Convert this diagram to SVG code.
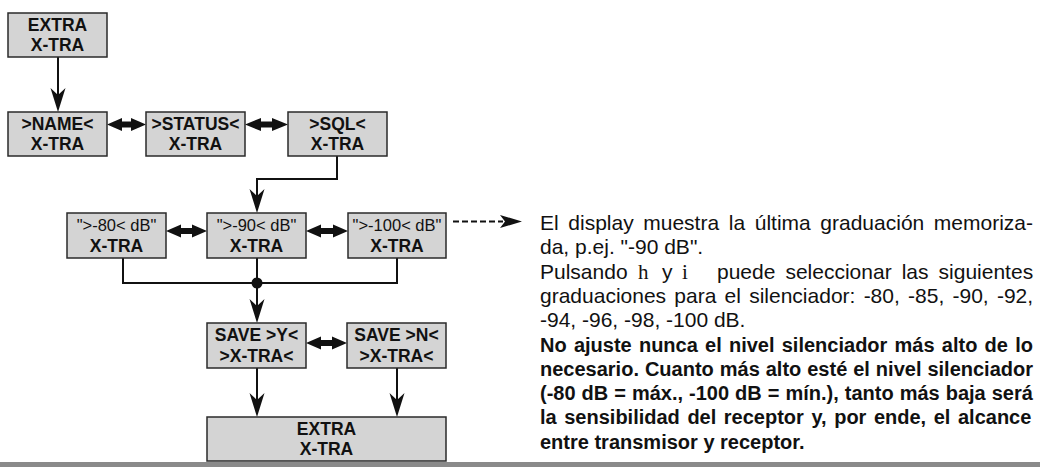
<svg xmlns="http://www.w3.org/2000/svg" width="1049" height="467" viewBox="0 0 1049 467">
<defs>
<style>
.box{fill:#d4d4d4;stroke:#2a2a2a;stroke-width:1.5}
.bt{font-family:"Liberation Sans",Arial,sans-serif;font-size:17.5px;font-weight:bold;fill:#111;text-anchor:middle}
.rt{font-family:"Liberation Sans",Arial,sans-serif;font-size:16.5px;fill:#111;text-anchor:middle}
.ln{fill:none;stroke:#111;stroke-width:2}
.dbl{fill:#111}
.tx{font-family:"Liberation Sans",Arial,sans-serif;font-size:21px;fill:#111}
.tb{font-weight:bold;font-size:20px}
.sf{font-family:"Liberation Serif","Times New Roman",serif}
</style>
</defs>
<rect width="1049" height="467" fill="#fff"/>

<g id="connectors">
<path class="ln" d="M58,57 V105"/>
<path d="M58,112 L50.5,88 L58,95 L65.5,88 Z" fill="#111"/>
<path class="ln" d="M337,156 V179 H257 V205"/>
<path d="M257,213 L249.5,189 L257,196 L264.5,189 Z" fill="#111"/>
<path class="ln" d="M123,258 V283 H397 V258"/>
<path class="ln" d="M257,258 V315"/>
<path d="M257,323 L249.5,299 L257,306 L264.5,299 Z" fill="#111"/>
<circle cx="257" cy="283" r="5.5" fill="#111"/>
<path class="ln" d="M257,368 V409"/>
<path d="M257,417 L249.5,393 L257,400 L264.5,393 Z" fill="#111"/>
<path class="ln" d="M397,368 V409"/>
<path d="M397,417 L389.5,393 L397,400 L404.5,393 Z" fill="#111"/>
<path class="ln" d="M453,221.5 H503" stroke-dasharray="6,3"/>
<path d="M522,221.5 L500,215 L505,221.5 L500,228 Z" fill="#111"/>
<path class="dbl" d="M107,124.5 L122,118 L122,121.5 L131,121.5 L131,118 L146,124.5 L131,131 L131,127.5 L122,127.5 L122,131 Z"/>
<path class="dbl" d="M245,124.5 L261,118 L261,121.5 L272,121.5 L272,118 L288,124.5 L272,131 L272,127.5 L261,127.5 L261,131 Z"/>
<path class="dbl" d="M166,231 L181,224.5 L181,228 L192,228 L192,224.5 L207,231 L192,237.5 L192,234 L181,234 L181,237.5 Z"/>
<path class="dbl" d="M306,231 L321,224.5 L321,228 L333,228 L333,224.5 L348,231 L333,237.5 L333,234 L321,234 L321,237.5 Z"/>
<path class="dbl" d="M306,343 L321,336.5 L321,340 L332,340 L332,336.5 L347,343 L332,349.5 L332,346 L321,346 L321,349.5 Z"/>
</g>

<g id="n-extra-top">
<rect class="box" x="8" y="13" width="99" height="44"/>
<text class="bt" x="57.5" y="31">EXTRA</text>
<text class="bt" x="57.5" y="51">X-TRA</text>
</g>
<g id="n-name">
<rect class="box" x="8" y="112" width="99" height="44"/>
<text class="bt" x="57.5" y="130">&gt;NAME&lt;</text>
<text class="bt" x="57.5" y="150">X-TRA</text>
</g>
<g id="n-status">
<rect class="box" x="146" y="112" width="99" height="44"/>
<text class="bt" x="195.5" y="130">&gt;STATUS&lt;</text>
<text class="bt" x="195.5" y="150">X-TRA</text>
</g>
<g id="n-sql">
<rect class="box" x="288" y="112" width="99" height="44"/>
<text class="bt" x="337.5" y="130">&gt;SQL&lt;</text>
<text class="bt" x="337.5" y="150">X-TRA</text>
</g>
<g id="n-80">
<rect class="box" x="67" y="213" width="99" height="45"/>
<text class="rt" x="116.5" y="231">"&gt;-80&lt; dB"</text>
<text class="bt" x="116.5" y="252">X-TRA</text>
</g>
<g id="n-90">
<rect class="box" x="207" y="213" width="99" height="45"/>
<text class="rt" x="256.5" y="231">"&gt;-90&lt; dB"</text>
<text class="bt" x="256.5" y="252">X-TRA</text>
</g>
<g id="n-100">
<rect class="box" x="348" y="213" width="98" height="45"/>
<text class="rt" x="397" y="231">"&gt;-100&lt; dB"</text>
<text class="bt" x="397" y="252">X-TRA</text>
</g>
<g id="n-save-y">
<rect class="box" x="207" y="323" width="99" height="45"/>
<text class="bt" x="256.5" y="341">SAVE &gt;Y&lt;</text>
<text class="bt" x="256.5" y="362">&gt;X-TRA&lt;</text>
</g>
<g id="n-save-n">
<rect class="box" x="347" y="323" width="99" height="45"/>
<text class="bt" x="396.5" y="341">SAVE &gt;N&lt;</text>
<text class="bt" x="396.5" y="362">&gt;X-TRA&lt;</text>
</g>
<g id="n-extra-bottom">
<rect class="box" x="207" y="417" width="239" height="44"/>
<text class="bt" x="326.5" y="435">EXTRA</text>
<text class="bt" x="326.5" y="455">X-TRA</text>
</g>

<g id="description" class="tx">
<text x="540" y="230" word-spacing="3.78">El display muestra la última graduación memoriza-</text>
<text x="540" y="254.3">da, p.ej. "-90 dB".</text>
<text y="278.6"><tspan x="540">Pulsando</tspan><tspan class="sf" x="638">h</tspan><tspan x="662">y</tspan><tspan class="sf" x="682">i</tspan><tspan x="717" word-spacing="4.2">puede seleccionar las siguientes</tspan></text>
<text x="540" y="302.9" word-spacing="2.4">graduaciones para el silenciador: -80, -85, -90, -92,</text>
<text x="540" y="327.2">-94, -96, -98, -100 dB.</text>
<text class="tb" x="540" y="351.5" word-spacing="1.67">No ajuste nunca el nivel silenciador más alto de lo</text>
<text class="tb" x="540" y="375.8" word-spacing="0.4">necesario. Cuanto más alto esté el nivel silenciador</text>
<text class="tb" x="540" y="400.1" word-spacing="0.45">(-80 dB = máx., -100 dB = mín.), tanto más baja será</text>
<text class="tb" x="540" y="424.4" word-spacing="2">la sensibilidad del receptor y, por ende, el alcance</text>
<text class="tb" x="540" y="448.7">entre transmisor y receptor.</text>
</g>

<rect x="0" y="462" width="1040" height="5" fill="#8a8a8a"/>
</svg>
